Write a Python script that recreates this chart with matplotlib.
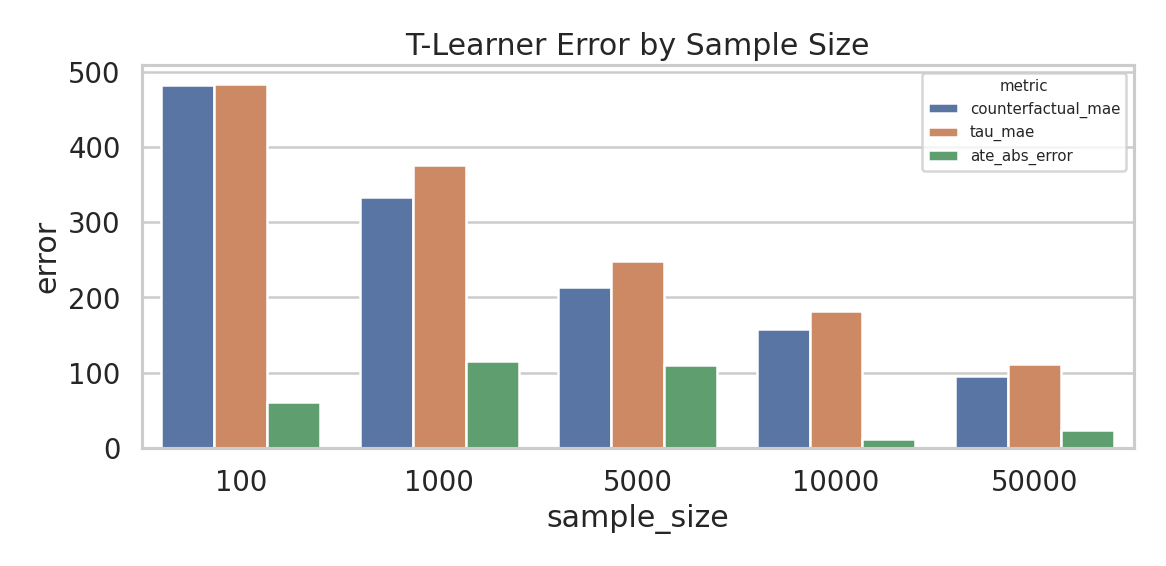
import pandas as pd
import seaborn as sns
import matplotlib.pyplot as plt

sns.set_theme(style="whitegrid", context="talk")

sample_sizes = ["100", "1000", "5000", "10000", "50000"]
metrics = ["counterfactual_mae", "tau_mae", "ate_abs_error"]
counterfactual_mae = [482, 333, 214, 158, 96]
tau_mae = [484, 376, 249, 182, 112]
ate_abs_error = [61, 116, 111, 12, 24]

rows = []
for vals, m in zip([counterfactual_mae, tau_mae, ate_abs_error], metrics):
    for s, v in zip(sample_sizes, vals):
        rows.append({"sample_size": s, "metric": m, "error": v})
df = pd.DataFrame(rows)

fig, ax = plt.subplots(figsize=(9.717, 4.717), dpi=120)
sns.barplot(data=df, x="sample_size", y="error", hue="metric", ax=ax)
ax.set_title("T-Learner Error by Sample Size")
ax.legend(title="metric", fontsize=9, title_fontsize=9, loc="upper right")
plt.tight_layout()
plt.savefig("out.png", dpi=120)
